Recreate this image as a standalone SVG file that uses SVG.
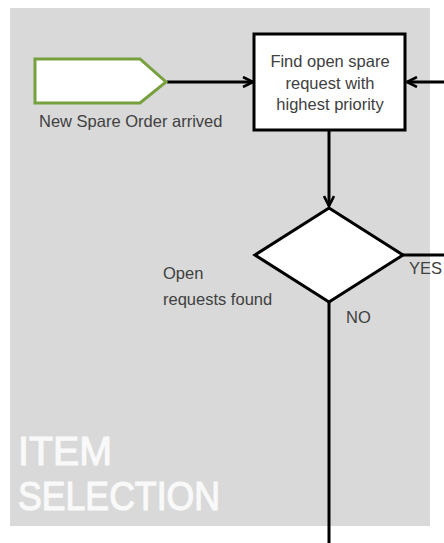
<svg xmlns="http://www.w3.org/2000/svg" width="444" height="543" viewBox="0 0 444 543">
  <style>
    .lbl { font-family: "Liberation Sans", Arial, sans-serif; font-size: 16.5px; fill: #404040; }
    .ctr { text-anchor: middle; }
    .flow { fill: none; stroke: #000; stroke-width: 3; }
    .lane { font-family: "Liberation Sans", Arial, sans-serif; font-size: 41px; fill: #f9f9f9; stroke: #f9f9f9; stroke-width: 1.2; }
  </style>
  <defs>
    <marker id="arrow" viewBox="0 0 12 12" refX="11" refY="6" markerWidth="12" markerHeight="12" markerUnits="userSpaceOnUse" orient="auto">
      <path d="M1,1 L11,6 L1,11" fill="none" stroke="#000" stroke-width="2.6"/>
    </marker>
  </defs>

  <rect width="444" height="543" fill="#fff"/>

  <!-- swimlane background -->
  <g id="lane-item-selection">
    <rect x="10" y="8" width="420" height="518" fill="#d9d9d9"/>
    <text class="lane" x="18" y="465" textLength="94" lengthAdjust="spacingAndGlyphs">ITEM</text>
    <text class="lane" x="18" y="510" textLength="202" lengthAdjust="spacingAndGlyphs">SELECTION</text>
  </g>

  <!-- connectors -->
  <g id="connectors">
    <line class="flow" x1="167" y1="82" x2="253" y2="82" marker-end="url(#arrow)"/>
    <line class="flow" x1="444" y1="82" x2="407" y2="82" marker-end="url(#arrow)"/>
    <line class="flow" x1="329" y1="131" x2="329" y2="206" marker-end="url(#arrow)"/>
    <line class="flow" x1="403" y1="255" x2="444" y2="255"/>
    <line class="flow" x1="329" y1="302" x2="329" y2="543"/>
  </g>

  <!-- start event -->
  <g id="start-new-spare-order">
    <polygon points="35,59 140,59 166,82 140,103 35,103" fill="#fff" stroke="#77a03f" stroke-width="3" stroke-linejoin="miter"/>
    <text class="lbl" x="39" y="127">New Spare Order arrived</text>
  </g>

  <!-- task -->
  <g id="task-find-request">
    <rect x="254" y="34" width="151" height="96" fill="#fff" stroke="#000" stroke-width="3"/>
    <text class="lbl ctr" x="330" y="67">Find open spare</text>
    <text class="lbl ctr" x="330" y="89">request with</text>
    <text class="lbl ctr" x="330" y="110">highest priority</text>
  </g>

  <!-- decision -->
  <g id="decision-open-requests">
    <polygon points="329,208 403,255 329,302 255,255" fill="#fff" stroke="#000" stroke-width="3" stroke-linejoin="miter"/>
    <text class="lbl" x="163" y="279">Open</text>
    <text class="lbl" x="163" y="305">requests found</text>
    <text class="lbl" x="409" y="274" font-size="13">YES</text>
    <text class="lbl" x="346" y="323" font-size="14">NO</text>
  </g>
</svg>
